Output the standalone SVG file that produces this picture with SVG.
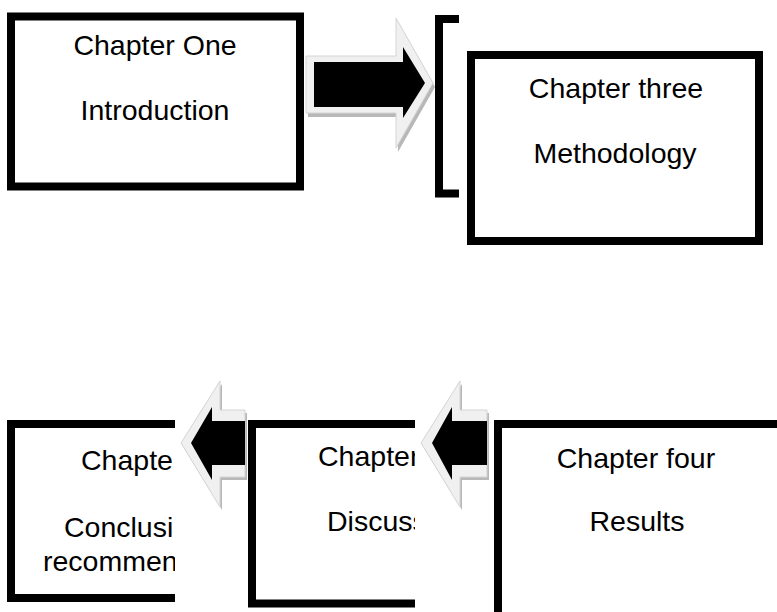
<svg xmlns="http://www.w3.org/2000/svg" width="777" height="612" viewBox="0 0 777 612">
<style>
.box{fill:#fff;stroke:#000;stroke-width:8}
.t{font-family:"Liberation Sans",Arial,sans-serif;font-size:28.5px;fill:#000}
.c{text-anchor:middle}
.outer{fill:#f0f0f0;stroke:#d4d4d4;stroke-width:1}
.shadow{fill:#b8b8b8}
.inner{fill:#000}
</style>
<defs>
<clipPath id="clipConc"><rect x="0" y="0" width="175" height="612"/></clipPath>
<clipPath id="clipDisc"><rect x="0" y="0" width="415" height="612"/></clipPath>
</defs>
<rect width="777" height="612" fill="#fff"/>
<g id="ch1">
<rect class="box" x="11" y="16.5" width="289" height="170"/>
<text class="t c" x="155" y="55">Chapter One</text>
<text class="t c" x="155" y="120">Introduction</text>
</g>
<g id="bracket">
<path d="M459,19 H439 V193.5 H459" fill="none" stroke="#000" stroke-width="8"/>
</g>
<g id="ch3">
<rect class="box" x="471" y="55" width="288" height="186"/>
<text class="t c" x="616" y="98">Chapter three</text>
<text class="t c" x="615" y="163">Methodology</text>
</g>
<g id="ch4">
<rect class="box" x="498" y="424" width="300" height="220"/>
<text class="t c" x="636" y="468">Chapter four</text>
<text class="t c" x="637" y="531">Results</text>
</g>
<g id="ch_disc" clip-path="url(#clipDisc)">
<rect class="box" x="252" y="424" width="200" height="179.5"/>
<text class="t" x="318" y="466">Chapter</text>
<text class="t" x="327" y="531">Discuss</text>
</g>
<g id="ch_conc" clip-path="url(#clipConc)">
<rect class="box" x="11" y="424" width="200" height="174"/>
<text class="t" x="81" y="470">Chapte</text>
<text class="t" x="64" y="537">Conclusi</text>
<text class="t" x="43" y="571">recommen</text>
</g>
<g id="connectors">
<g id="arrow1">
<path class="shadow" transform="translate(2,4)" d="M306,56 H396 V18 L433,83 L396,148 V113 H306 Z"/>
<path class="outer" d="M306,56 H396 V18 L433,83 L396,148 V113 H306 Z"/>
<path class="inner" d="M314,62 H403 V47 L425,83 L403,118 V107 H314 Z"/>
</g>
<g id="arrow2">
<path class="shadow" transform="translate(2,3)" d="M487,410 H460 V381 L421,443 L460,507 V477 H487 Z"/>
<path class="outer" d="M487,410 H460 V381 L421,443 L460,507 V477 H487 Z"/>
<path class="inner" d="M487,421 H452 V407 L432,443 L452,480 V465 H487 Z"/>
</g>
<g id="arrow3">
<path class="shadow" transform="translate(2,3)" d="M245,410 H220 V381 L181,443 L220,507 V477 H245 Z"/>
<path class="outer" d="M245,410 H220 V381 L181,443 L220,507 V477 H245 Z"/>
<path class="inner" d="M245,421 H212 V407 L191,443 L212,480 V465 H245 Z"/>
</g>
</g>
</svg>
